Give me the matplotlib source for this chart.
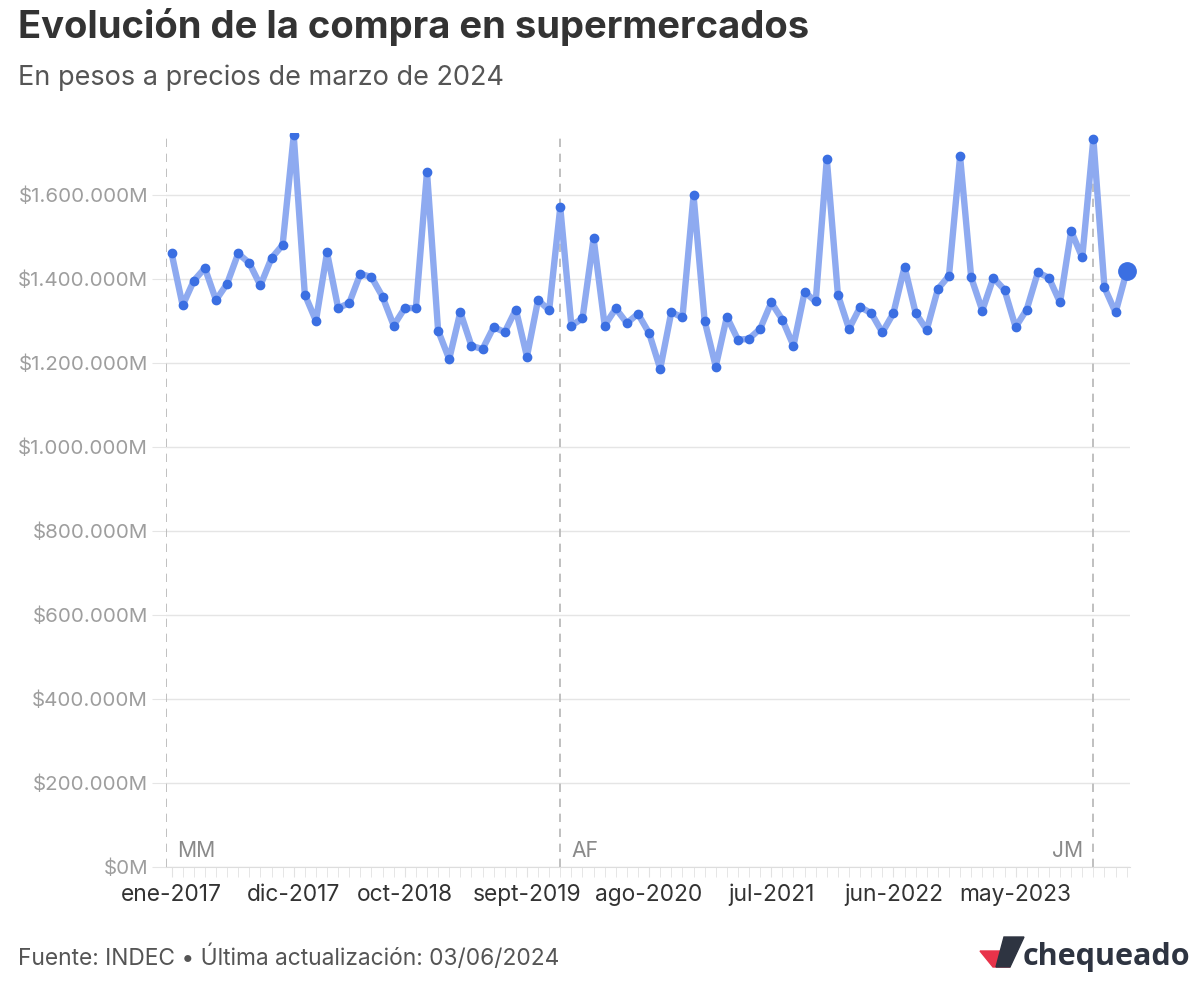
import numpy as np
import matplotlib.pyplot as plt
from matplotlib.patches import Polygon
from matplotlib.ticker import FuncFormatter

# compra en supermercados, millones de pesos a precios de marzo 2024 (ene-2017 .. mar-2024)
valores = [
    1461200, 1336500, 1395300, 1425500, 1349300, 1388100, 1460300, 1437400, 1384100, 1449300, 1480300, 1741200,
    1362600, 1300000, 1462600, 1330300, 1342200, 1411900, 1404100, 1357200, 1288800, 1330300, 1330300, 1654800,
    1276900, 1208800, 1320700, 1240500, 1232600, 1285000, 1273100, 1326900, 1215000, 1349300, 1325500, 1569800,
    1288800, 1305500, 1496000, 1288800, 1329300, 1294500, 1316700, 1270700, 1185700, 1320700, 1307900, 1598400,
    1300000, 1191200, 1309600, 1254800, 1257200, 1281000, 1343600, 1302400, 1240500, 1368400, 1346000, 1685000,
    1361900, 1281000, 1332600, 1318400, 1272200, 1318400, 1428600, 1318400, 1278600, 1375500, 1407200, 1691200,
    1403100, 1324500, 1402400, 1373800, 1285000, 1326900, 1415000, 1402400, 1343600, 1513600, 1450700, 1732600,
    1379300, 1319800, 1417400,
]
meses = ['ene', 'feb', 'mar', 'abr', 'may', 'jun', 'jul', 'ago', 'sept', 'oct', 'nov', 'dic']
fechas = [f'{meses[i % 12]}-{2017 + i // 12}' for i in range(len(valores))]
etiquetas_x = ['ene-2017', 'dic-2017', 'oct-2018', 'sept-2019', 'ago-2020', 'jul-2021', 'jun-2022', 'may-2023']
gobiernos = ['MM', 'AF', 'JM']
inicio_gob = [None, 'dic-2019', 'dic-2023']

plt.rcParams['font.family'] = ['Inter', 'DejaVu Sans']

W, H = 1200, 989
fig = plt.figure(figsize=(W / 100, H / 100), dpi=100)
ax = fig.add_axes([166 / W, 1 - 867 / H, (1130 - 166) / W, (867 - 133) / H])

x = np.arange(len(valores))
ax.plot(x, valores, color='#8eaaf0', lw=4.6, solid_joinstyle='round', solid_capstyle='round', zorder=3)
ax.plot(x[:-1], valores[:-1], 'o', color='#3b6fe2', ms=6, zorder=4)
ax.plot(x[-1], valores[-1], 'o', color='#3b6fe2', ms=12.5, zorder=5, clip_on=False)

ax.set_xlim(-0.5, 86.3)
ax.set_ylim(0, 1747000)

ax.set_yticks(np.arange(0, 1600001, 200000))
ax.yaxis.set_major_formatter(FuncFormatter(lambda v, p: '$' + f'{int(v):,}'.replace(',', '.') + 'M'))
ax.grid(axis='y', color='#e5e5e5', lw=1)
ax.tick_params(axis='y', length=10, color='#e5e5e5', labelsize=14.8, labelcolor='#9e9e9e', pad=3)

ax.set_xticks([fechas.index(e) for e in etiquetas_x])
ax.set_xticklabels(etiquetas_x)
ax.set_xticks(x, minor=True)
ax.tick_params(axis='x', which='both', length=7, color='#e2e2e2', labelsize=16.4, labelcolor='#333333', pad=5)

for s in ['top', 'right', 'left']:
    ax.spines[s].set_visible(False)
ax.spines['bottom'].set_color('#dddddd')

# lineas de cambio de gobierno
for g, f in zip(gobiernos, inicio_gob):
    xg = -0.5 if f is None else fechas.index(f)
    ax.axvline(xg, color='#b5b5b5', lw=1.2, ls=(0, (5, 4)), zorder=2)
    if g == 'JM':
        ax.text(xg - 0.9, 14000, g, ha='right', va='bottom', fontsize=15.2, color='#8a8a8a')
    else:
        ax.text(xg + 1.0, 14000, g, ha='left', va='bottom', fontsize=15.2, color='#8a8a8a')

fig.text(18 / W, 1 - 27 / H, 'Evolución de la compra en supermercados', fontsize=27.5, fontweight='bold',
         color='#333333', va='center')
fig.text(18 / W, 1 - 78 / H, 'En pesos a precios de marzo de 2024', fontsize=19.5, color='#555555', va='center')
fig.text(18 / W, 1 - 957 / H, 'Fuente: INDEC • Última actualización: 03/06/2024', fontsize=16.4,
         color='#555555', va='center')

# logo
fig.patches.append(Polygon([(980 / W, 1 - 951 / H), (1003 / W, 1 - 951 / H), (1010 / W, 1 - 967 / H),
                            (993 / W, 1 - 967 / H)], closed=True, transform=fig.transFigure,
                           color='#e8334a'))
fig.patches.append(Polygon([(1004 / W, 1 - 937 / H), (1024 / W, 1 - 937 / H), (1010 / W, 1 - 967 / H),
                            (996 / W, 1 - 967 / H)], closed=True, transform=fig.transFigure,
                           color='#2e3441'))
fig.text(1023 / W, 1 - 957 / H, 'chequeado', fontsize=22, fontweight='bold', color='#2e3441',
         va='center', family=['Open Sans', 'DejaVu Sans'])

fig.savefig('out.png', dpi=100)
